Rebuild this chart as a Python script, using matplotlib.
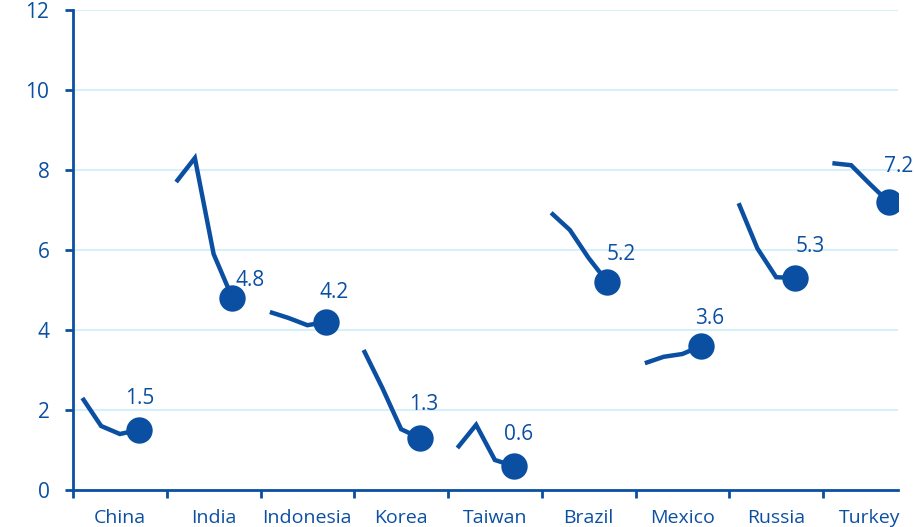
import matplotlib
matplotlib.use("Agg")
import matplotlib.pyplot as plt

# Data
countries = ["China", "India", "Indonesia", "Korea", "Taiwan",
             "Brazil", "Mexico", "Russia", "Turkey"]
china = [2.3, 1.6, 1.4, 1.5]
india = [7.7, 8.3, 5.9, 4.8]
indonesia = [4.45, 4.3, 4.12, 4.2]
korea = [3.5, 2.55, 1.52, 1.3]
taiwan = [1.05, 1.63, 0.75, 0.6]
brazil = [6.93, 6.5, 5.8, 5.2]
mexico = [3.17, 3.33, 3.4, 3.6]
russia = [7.17, 6.04, 5.32, 5.3]
turkey = [8.17, 8.12, 7.65, 7.2]
series = [china, india, indonesia, korea, taiwan, brazil, mexico, russia, turkey]
y_ticks = [0, 2, 4, 6, 8, 10, 12]

# Styling
blue = "#0b4fa2"
grid_blue = "#cdeef9"
step = 0.2  # spacing of points within a category
label_offsets = [(1, 31), (18, 18), (8, 29), (4, 34), (5, 31),
                 (14, 28), (8, 28), (15, 31), (10, 36)]

plt.rcParams["font.family"] = ["Open Sans", "DejaVu Sans"]

fig = plt.figure(figsize=(9.15, 5.27), dpi=100)
ax = fig.add_axes([73 / 915, 37 / 527, 825 / 915, 480 / 527])

for i, vals in enumerate(series):
    xs = [i + (k - 2) * step for k in range(len(vals))]
    ax.plot(xs, vals, color=blue, lw=3.2, solid_capstyle="butt",
            solid_joinstyle="miter", zorder=3)
    ax.plot(xs[-1], vals[-1], "o", color=blue, ms=19, mec="none", zorder=4)
    dx, dy = label_offsets[i]
    ax.annotate(f"{vals[-1]:.1f}", (xs[-1], vals[-1]), xytext=(dx, dy),
                textcoords="offset pixels", ha="center", va="center",
                color=blue, fontsize=15, zorder=5)

ax.set_xlim(-0.5, 8.3)
ax.set_ylim(0, 12)
ax.set_yticks(y_ticks)
ax.set_yticklabels([str(v) for v in y_ticks])

# category ticks sit between categories, labels in the middle
ax.set_xticks([i - 0.5 for i in range(len(countries))])
ax.set_xticklabels([])
ax.set_xticks(range(len(countries)), minor=True)
ax.set_xticklabels(countries, minor=True)
ax.tick_params(axis="x", which="minor", length=0, pad=14,
               labelsize=14, labelcolor=blue)
ax.tick_params(axis="x", which="major", length=6, width=2, color=blue,
               direction="out")
ax.tick_params(axis="y", length=6, width=2, color=blue, pad=11,
               labelsize=15, labelcolor=blue)

ax.grid(axis="y", color=grid_blue, lw=1.2, zorder=0)
ax.set_axisbelow(True)
for side in ["top", "right"]:
    ax.spines[side].set_visible(False)
for side in ["left", "bottom"]:
    ax.spines[side].set_color(blue)
    ax.spines[side].set_linewidth(2)
    ax.spines[side].set_zorder(6)

fig.savefig("out.png", dpi=100)
